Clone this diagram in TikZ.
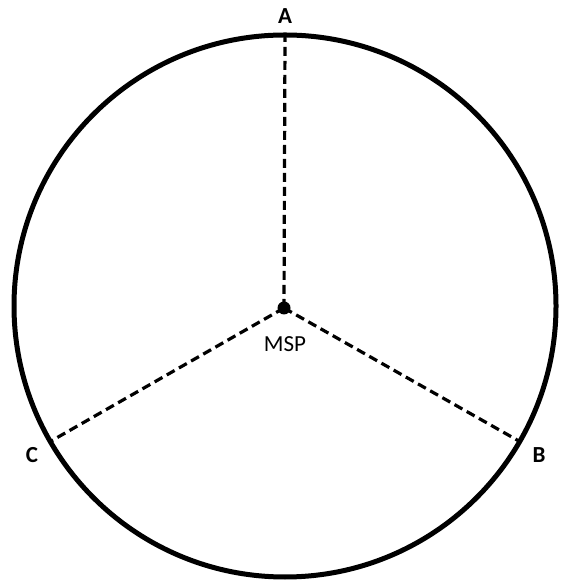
\documentclass[tikz,border=0pt]{standalone}
\usepackage{fontspec}
\setmainfont{Carlito}
\usetikzlibrary{positioning,calc}
\tikzset{
  Rim/.style={draw, circle, line width=5pt, outer sep=0pt, inner sep=0pt,
              minimum size=542pt},
  Spoke/.style={line width=3.2pt, dash pattern=on 9pt off 5pt},
  Hub/.style={circle, fill=black, inner sep=0pt, minimum size=13pt},
  Ptlab/.style={font=\fontsize{23}{26}\selectfont\bfseries},
  Hublab/.style={font=\fontsize{23}{26}\selectfont}
}
\begin{document}
\begin{tikzpicture}[x=1pt,y=1pt]
  \useasboundingbox (0,0) rectangle (565,580);
  \node[Rim] (rim) at (285,274) {};
  \node[Hub] (msp) at (284,272) {};
  \draw[Spoke] (msp.center) -- (rim.90);
  \draw[Spoke] (msp.center) -- (rim.-30);
  \draw[Spoke] (msp.center) -- (rim.210);
  \node[Ptlab] (la) at (285,563.5) {A};
  \node[Ptlab] (lb) at (539,125) {B};
  \node[Ptlab] (lc) at (32,125) {C};
  \node[Hublab] (lmsp) at (285,236) {MSP};
\end{tikzpicture}
\end{document}
